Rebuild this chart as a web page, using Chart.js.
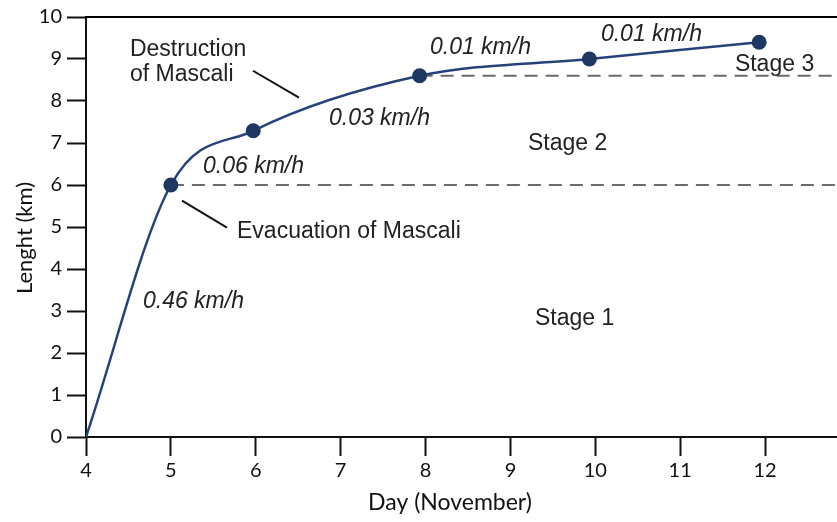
<!DOCTYPE html>
<html><head><meta charset="utf-8">
<script src="https://cdn.jsdelivr.net/npm/chart.js@4/dist/chart.umd.min.js"></script>
<style>html,body{margin:0;padding:0;overflow:hidden;background:#fff;width:837px;height:522px}#w{width:860px;height:522px}</style>
</head><body><div id="w"><canvas id="c" width="860" height="522"></canvas></div>
<script>
const days = [4, 5, 5.97, 7.93, 9.93, 11.93];
const lengthKm = [0, 6, 7.29, 8.6, 9.0, 9.4];
const markerShown = [false, true, true, true, true, true];
const stageLines = [ {from: 5, y: 6}, {from: 7.93, y: 8.6} ];
const xTicks = [4,5,6,7,8,9,10,11,12];
const yTicks = [0,1,2,3,4,5,6,7,8,9,10];
const xTitle = "Day (November)";
const yTitle = "Lenght (km)";
const labels = [
  {t:"Destruction", x:4.518, y:9.08, it:false},
  {t:"of Mascali", x:4.518, y:8.48, it:false},
  {t:"0.01 km/h", x:8.052, y:9.126, it:true},
  {t:"0.01 km/h", x:10.066, y:9.419, it:true},
  {t:"0.03 km/h", x:6.862, y:7.436, it:true},
  {t:"Stage 3", x:11.644, y:8.705, it:false},
  {t:"Stage 2", x:9.206, y:6.84, it:false},
  {t:"0.06 km/h", x:5.378, y:6.293, it:true},
  {t:"Evacuation of Mascali", x:5.779, y:4.745, it:false},
  {t:"0.46 km/h", x:4.671, y:3.079, it:true},
  {t:"Stage 1", x:9.289, y:2.67, it:false}
];
const leaders = [
  [{x:5.967,y:8.72},{x:6.509,y:8.08}],
  [{x:5.131,y:5.626},{x:5.661,y:4.983}]
];
const X_MAX = 13;

const datasets = [];
stageLines.forEach(s => datasets.push({
  data:[{x:s.from,y:s.y},{x:X_MAX,y:s.y}], borderColor:'#6b6b6b', borderWidth:2,
  borderDash:[13,8], pointRadius:0, tension:0, order:3
}));
leaders.forEach(l => datasets.push({
  data:l, borderColor:'#111', borderWidth:2, pointRadius:0, tension:0, order:2
}));
datasets.push({
  data: days.map((d,i)=>({x:d,y:lengthKm[i]})),
  borderColor:'#25437a', borderWidth:2.5, cubicInterpolationMode:'monotone',
  pointRadius: markerShown.map(m=>m?7.5:0), pointBackgroundColor:'#1f3763',
  pointBorderColor:'#1f3763', pointBorderWidth:0, order:1
});

const deco = {
  id:'deco',
  afterDraw(chart){
    const {ctx, chartArea:a, scales:{x,y}} = chart;
    ctx.save();
    ctx.strokeStyle='#000'; ctx.lineWidth=2;
    ctx.beginPath(); ctx.moveTo(a.left-1, a.top); ctx.lineTo(chart.width, a.top); ctx.stroke();
    ctx.fillStyle='#222'; ctx.textBaseline='alphabetic'; ctx.textAlign='left';
    labels.forEach(l=>{
      ctx.font=(l.it?'italic ':'')+'23px "Liberation Sans", Arial, sans-serif';
      ctx.fillText(l.t, x.getPixelForValue(l.x), y.getPixelForValue(l.y));
    });
    ctx.fillStyle='#111';
    ctx.textAlign='center'; ctx.textBaseline='alphabetic';
    ctx.font='23px Lato, sans-serif';
    ctx.fillText(xTitle, 450, 510);
    ctx.font='22px Lato, sans-serif';
    ctx.translate(32, 238); ctx.rotate(-Math.PI/2);
    ctx.fillText(yTitle, 0, 0);
    ctx.restore();
  }
};

new Chart(document.getElementById('c'), {
  type:'line',
  data:{datasets},
  options:{
    responsive:false, animation:false,
    layout:{padding:{left:0, right:10, top:17, bottom:0}},
    plugins:{legend:{display:false}, tooltip:{enabled:false}},
    scales:{
      x:{type:'linear', min:4, max:X_MAX,
        afterBuildTicks(s){ s.ticks = xTicks.map(v=>({value:v})); },
        afterFit(s){ s.height = 85; },
        grid:{drawOnChartArea:false, tickLength:19, tickColor:'#111', tickWidth:2},
        border:{color:'#111', width:2},
        ticks:{color:'#111', padding:3, font:{family:'Lato', size:20}, maxRotation:0, autoSkip:false}
      },
      y:{type:'linear', min:0, max:10,
        afterBuildTicks(s){ s.ticks = yTicks.map(v=>({value:v})); },
        afterFit(s){ s.width = 86; },
        grid:{drawOnChartArea:false, tickLength:19, tickColor:'#111', tickWidth:2},
        border:{color:'#111', width:2},
        ticks:{color:'#111', padding:5, font:{family:'Lato', size:20}}
      }
    }
  },
  plugins:[deco]
});
</script></body></html>
